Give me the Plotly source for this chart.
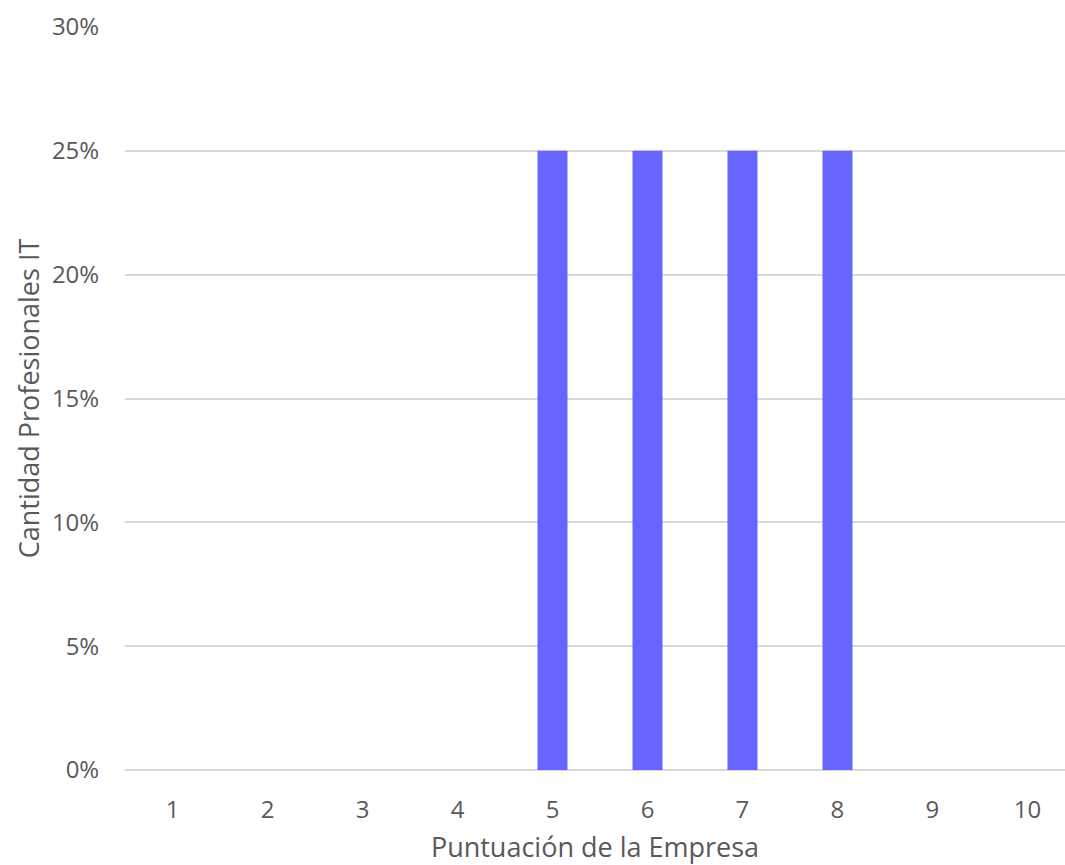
import plotly.graph_objects as go

categories = ["1", "2", "3", "4", "5", "6", "7", "8", "9", "10"]
values = [0, 0, 0, 0, 0.25, 0.25, 0.25, 0.25, 0, 0]
y_ticks = [0, 0.05, 0.10, 0.15, 0.20, 0.25, 0.30]

fig = go.Figure(go.Bar(x=categories, y=values, marker_color="#6666FF", marker_line_width=0))

font = dict(family="Open Sans", color="#595959")
fig.update_layout(
    width=1065, height=865,
    margin=dict(l=125, r=0, t=27, b=95),
    plot_bgcolor="white", paper_bgcolor="white",
    bargap=0.684,
    showlegend=False,
    font=dict(family="Open Sans", size=24, color="#595959"),
)
fig.update_xaxes(
    type="category",
    range=[-0.5, 9.395],
    title=dict(text="Puntuación de la Empresa", font=dict(size=27, **font), standoff=14),
    tickfont=dict(size=24, **font),
    ticks="outside", ticklen=18, tickcolor="rgba(0,0,0,0)",
    showgrid=False, showline=False,
)
fig.update_yaxes(
    range=[0, 0.30], tickvals=y_ticks, tickformat=".0%",
    title=dict(text="Cantidad Profesionales IT", font=dict(size=27, **font), standoff=4),
    tickfont=dict(size=24, **font),
    ticks="outside", ticklen=20, tickcolor="rgba(0,0,0,0)",
    showgrid=True, gridcolor="#d9d9d9", gridwidth=1.5,
    zeroline=True, zerolinecolor="#d9d9d9", zerolinewidth=1.5,
    showline=False,
)

fig.write_html(
    "out.html",
    config={"displayModeBar": False},
    post_script="document.body.style.margin='0';document.body.style.overflow='hidden';",
)
